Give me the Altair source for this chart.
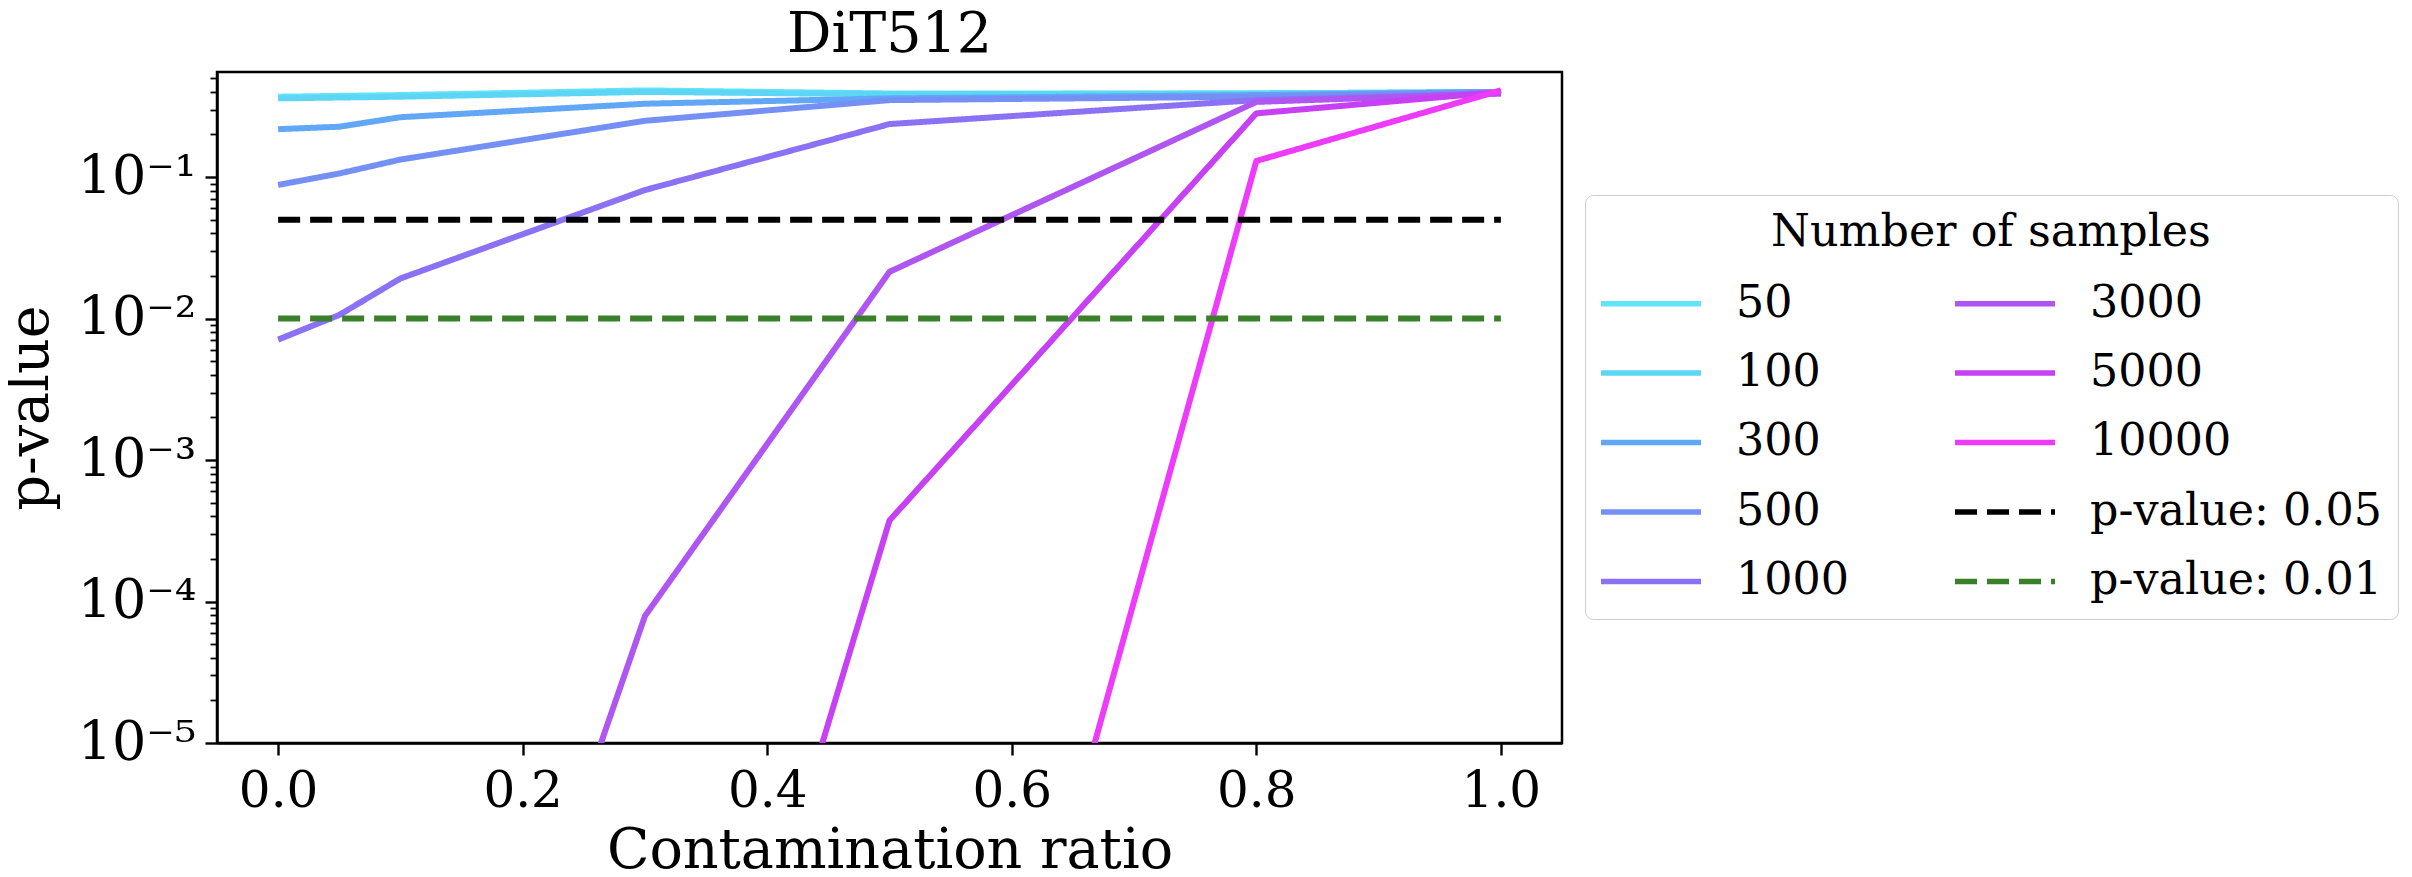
import altair as alt
import pandas as pd

# ---- data ----
contamination = [0.0, 0.05, 0.1, 0.3, 0.5, 0.8, 1.0]
sample_sizes = ["50", "100", "300", "500", "1000", "3000", "5000", "10000"]
p_50 = [0.37, 0.375, 0.38, 0.41, 0.39, 0.39, 0.40]
p_100 = [0.36, 0.365, 0.37, 0.40, 0.385, 0.39, 0.40]
p_300 = [0.218, 0.227, 0.265, 0.33, 0.36, 0.38, 0.40]
p_500 = [0.088, 0.106, 0.133, 0.25, 0.35, 0.37, 0.40]
p_1000 = [0.0071, 0.0106, 0.0192, 0.081, 0.237, 0.35, 0.39]
p_3000 = [1e-12, 1e-11, 8e-10, 7.9e-5, 0.0214, 0.34, 0.39]
p_5000 = [1e-14, 1e-13, 1e-12, 7e-10, 3.74e-4, 0.282, 0.40]
p_10000 = [1e-16, 1e-15, 1e-14, 1e-13, 6e-11, 0.13, 0.41]
series_values = [p_50, p_100, p_300, p_500, p_1000, p_3000, p_5000, p_10000]

threshold_labels = ["p-value: 0.05", "p-value: 0.01"]
threshold_values = [0.05, 0.01]
threshold_x = [0.0, 1.0]

series_colors = ["#64e4fa", "#5cd6f4", "#62a6f6", "#7590f4",
                 "#8b72f4", "#ae55f2", "#c840f4", "#ee3afa"]
threshold_colors = ["#000000", "#3a7f2a"]

x_tick_values = [0.0, 0.2, 0.4, 0.6, 0.8, 1.0]
y_decades = [1e-5, 1e-4, 1e-3, 1e-2, 1e-1]
y_top = 0.553

# ---- build table ----
rows = []
for name, vals in zip(sample_sizes, series_values):
    for x, v in zip(contamination, vals):
        rows.append({"ratio": x, "p": v, "series": name})
for name, v in zip(threshold_labels, threshold_values):
    for x in threshold_x:
        rows.append({"ratio": x, "p": v, "series": name})
df = pd.DataFrame(rows)

all_names = sample_sizes + threshold_labels
all_colors = series_colors + threshold_colors
all_dashes = [[1, 0]] * len(sample_sizes) + [[22, 10]] * len(threshold_labels)

y_ticks = []
for d in y_decades:
    for m in range(1, 10):
        if m * d <= y_top:
            y_ticks.append(m * d)

FONT = "DejaVu Serif"
is_major = "abs(log(datum.value)/LN10 - round(log(datum.value)/LN10)) < 0.001"
E = "round(log(datum.value)/LN10)"
sup = {-1: "10⁻¹", -2: "10⁻²", -3: "10⁻³", -4: "10⁻⁴", -5: "10⁻⁵"}
label_expr = f"!({is_major}) ? '' : " + " : ".join(
    [f"{E} == {k} ? '{v}'" for k, v in sup.items()]) + " : ''"

PLOT_W, PLOT_H = 1345, 671
PAD_L, PAD_T = 209, 64

chart = alt.Chart(df).mark_line(clip=True, strokeWidth=6, strokeJoin="round").encode(
    x=alt.X("ratio:Q",
            scale=alt.Scale(domain=[-0.05, 1.05], nice=False, zero=False),
            axis=alt.Axis(title="Contamination ratio", values=x_tick_values, format=".1f",
                          labelFont=FONT, labelFontSize=50, labelColor="black",
                          labelPadding=11, labelFlush=False,
                          tickSize=12, tickWidth=2.4, tickColor="black",
                          domainColor="black", domainWidth=2.5,
                          titleFont=FONT, titleFontSize=55.5, titleFontWeight="normal",
                          titleColor="black", titlePadding=7, grid=False)),
    y=alt.Y("p:Q",
            scale=alt.Scale(type="log", domain=[1e-5, y_top], nice=False),
            axis=alt.Axis(title="p-value", values=y_ticks, labelExpr=label_expr,
                          labelOverlap=False, labelFlush=False,
                          labelFont=FONT, labelFontSize=54, labelColor="black",
                          labelPadding=9,
                          tickSize={"condition": {"test": is_major, "value": 12}, "value": 7},
                          tickWidth={"condition": {"test": is_major, "value": 2.4}, "value": 1.8},
                          tickColor="black",
                          domainColor="black", domainWidth=2.5,
                          titleFont=FONT, titleFontSize=55.5, titleFontWeight="normal",
                          titleColor="black", titlePadding=18, grid=False)),
    color=alt.Color("series:N",
                    scale=alt.Scale(domain=all_names, range=all_colors),
                    legend=alt.Legend(title="Number of samples", orient="none",
                                      legendX=1368, legendY=123, columns=2,
                                      symbolType="M-1.12,0H2.88", symbolSize=2500,
                                      symbolStrokeWidth=5.5,
                                      labelFont=FONT, labelFontSize=44.4, labelColor="black",
                                      labelOffset=79, labelLimit=0,
                                      titleFont=FONT, titleFontSize=44.4,
                                      titleFontWeight="normal", titleColor="black",
                                      titleAnchor="middle", titlePadding=20, titleLimit=2000,
                                      columnPadding=95, rowPadding=19.5, padding=16,
                                      strokeColor="#cccccc", cornerRadius=8,
                                      fillColor="white")),
    strokeDash=alt.StrokeDash("series:N",
                              scale=alt.Scale(domain=all_names, range=all_dashes),
                              legend=alt.Legend(title="Number of samples")),
).properties(
    width=PLOT_W, height=PLOT_H,
    title=alt.TitleParams("DiT512", font=FONT, fontSize=55.5, fontWeight="normal",
                          color="black", anchor="middle", offset=-12),
    padding={"left": PAD_L, "top": PAD_T, "right": 2396 - PAD_L - PLOT_W,
             "bottom": 861 - PAD_T - PLOT_H},
    autosize=alt.AutoSizeParams(type="none"),
    background="white",
).configure_view(stroke="black", strokeWidth=2.5)

chart.save("out.html", embed_options={"renderer": "svg", "actions": False})
